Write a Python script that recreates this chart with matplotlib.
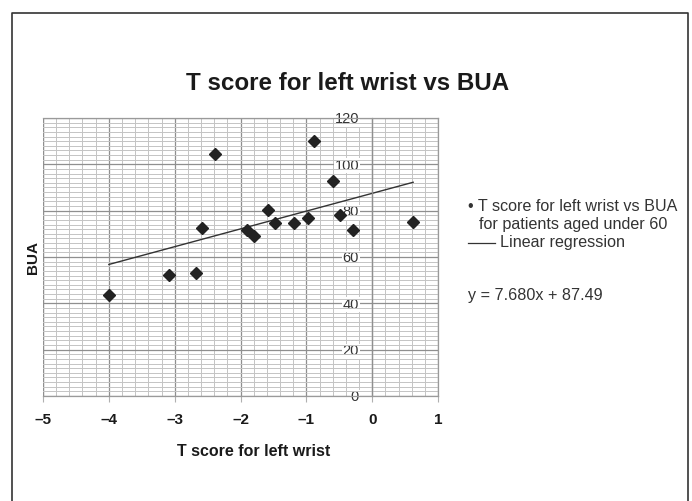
import numpy as np
import matplotlib
matplotlib.use('Agg')
import matplotlib.pyplot as plt
from matplotlib.lines import Line2D
from matplotlib.ticker import MultipleLocator, FixedLocator, FixedFormatter

plt.rcParams['font.family'] = ['Liberation Sans', 'DejaVu Sans']

# === Data ===
t_score = [-4.0, -3.08, -2.67, -2.59, -2.39, -1.90, -1.79, -1.59, -1.48, -1.19,
           -0.98, -0.89, -0.59, -0.49, -0.29, 0.62]
bua = [43.5, 52.2, 52.9, 72.6, 104.6, 71.6, 69.0, 80.2, 74.7, 74.7,
       77.0, 110.0, 92.8, 78.0, 71.8, 75.3]

slope = 7.680
intercept = 87.49

x_ticks = [-5, -4, -3, -2, -1, 0, 1]
x_tick_labels = ['\u20135', '\u20134', '\u20133', '\u20132', '\u20131', '0', '1']
y_ticks = [0, 20, 40, 60, 80, 100, 120]

# === Figure ===
fig = plt.figure(figsize=(6.92, 5.01), dpi=100)
ax = fig.add_axes([0.0621, 0.2096, 0.5711, 0.5549])

ax.set_xlim(-5, 1)
ax.set_ylim(0, 120)

# grid
ax.xaxis.set_minor_locator(MultipleLocator(0.2))
ax.yaxis.set_minor_locator(MultipleLocator(2))
ax.grid(which='minor', color='#c4c4c4', linewidth=0.7)
ax.grid(which='major', color='#8f8f8f', linewidth=0.9)
ax.set_axisbelow(True)

for s in ['top', 'right', 'bottom']:
    ax.spines[s].set_color('#9a9a9a')
    ax.spines[s].set_linewidth(0.9)
ax.spines['left'].set_position(('data', 0))
ax.spines['left'].set_color('#8f8f8f')
ax.spines['left'].set_linewidth(0.9)

# frame edge on the left (axis spine was moved to x=0)
ax.axvline(-5, color='#9a9a9a', linewidth=0.9, zorder=0.5)

ax.xaxis.set_major_locator(FixedLocator(x_ticks))
ax.xaxis.set_major_formatter(FixedFormatter(x_tick_labels))
ax.yaxis.set_major_locator(FixedLocator(y_ticks))

ax.tick_params(axis='x', which='major', length=4, color='#b0b0b0', pad=8,
               labelsize=11)
ax.tick_params(axis='x', which='minor', length=0)
ax.tick_params(axis='y', which='major', length=0, pad=9.5, labelsize=10.5,
               labelcolor='#333333')
ax.tick_params(axis='y', which='minor', length=0)
for lbl in ax.get_xticklabels():
    lbl.set_fontweight('bold')
    lbl.set_color('#1a1a1a')
for lbl in ax.get_yticklabels():
    lbl.set_bbox(dict(facecolor='white', edgecolor='none', pad=0.3))

# points and regression line
ax.plot(t_score, bua, linestyle='none', marker='D', markersize=6.5,
        color='#222222', zorder=3)
x_line = np.array([min(t_score), max(t_score)])
ax.plot(x_line, slope * x_line + intercept, color='#333333', linewidth=1.0,
        zorder=2)

# labels
fig.text(0.502, 0.834, 'T score for left wrist vs BUA', ha='center',
         va='center', fontsize=17.4, fontweight='bold', color='#1a1a1a')
fig.text(0.367, 0.098, 'T score for left wrist', ha='center', va='center',
         fontsize=11.5, fontweight='bold', color='#1a1a1a')
fig.text(0.0477, 0.487, 'BUA', ha='center', va='center', rotation=90,
         fontsize=11, fontweight='bold', color='#1a1a1a')

# legend text on the right
txt_color = '#333333'
fig.text(0.676, 0.587, '\u2022 T score for left wrist vs BUA', ha='left',
         va='center', fontsize=11.6, color=txt_color)
fig.text(0.692, 0.551, 'for patients aged under 60', ha='left', va='center',
         fontsize=11.6, color=txt_color)
fig.add_artist(Line2D([0.676, 0.715], [0.515, 0.515], color=txt_color,
                      linewidth=0.9, transform=fig.transFigure))
fig.text(0.7225, 0.515, 'Linear regression', ha='left', va='center',
         fontsize=11.6, color=txt_color)
fig.text(0.676, 0.411, 'y = 7.680x + 87.49', ha='left', va='center',
         fontsize=11.6, color=txt_color)

# outer box (open at the bottom)
box_x = [12 / 692, 12 / 692, 688 / 692, 688 / 692]
box_y = [0.0, 1 - 13 / 501, 1 - 13 / 501, 0.0]
fig.add_artist(Line2D(box_x, box_y, color='#333333', linewidth=1.2,
                      transform=fig.transFigure))

fig.savefig('out.png', dpi=100)
